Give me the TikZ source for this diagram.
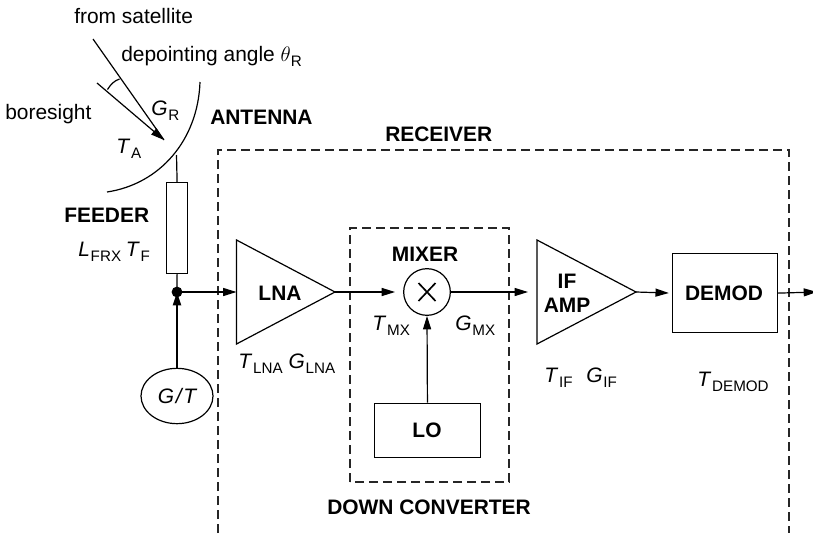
\documentclass[tikz,border=0pt]{standalone}
\usepackage{fix-cm}
\usepackage{fontspec}
\setmainfont{Liberation Sans}
\usetikzlibrary{arrows.meta,shapes.geometric}
\newcommand{\vsub}[2]{\textit{#1}\kern0.04em\raisebox{-0.28em}{\fontsize{11.4}{12}\selectfont #2}}
\tikzset{
  ln/.style={line width=0.9pt,draw=black},
  dashbox/.style={line width=0.8pt,draw=black!85,dash pattern=on 6.8pt off 3.7pt},
  arr/.style={ln,-{Triangle[length=10pt,width=6pt]}},
  lab/.style={font=\fontsize{15.7}{18}\selectfont,inner sep=0pt,anchor=base west},
  labc/.style={lab,anchor=base},
  blab/.style={lab,font=\fontsize{15.7}{18}\selectfont\bfseries},
  blabc/.style={blab,anchor=base},
  boxn/.style={ln,draw,rectangle,inner sep=0pt,anchor=north west},
}
\begin{document}
\begin{tikzpicture}[x=0.75pt,y=-0.75pt]
\useasboundingbox (0,0) rectangle (813,536);
% dashed frames
\draw[dashbox] (218,533) -- (218,150) -- (789,150) -- (789,533);
\draw[dashbox] (350,482) -- (350,228) -- (509,228) -- (509,482) -- cycle;
% antenna
\coordinate (sat) at (93,39);
\coordinate (bore) at (97,83);
\coordinate (focus) at (164,140);
\coordinate (dishtop) at (200,82);
\coordinate (dishbot) at (107,192);
\coordinate (dishfeed) at (176.5,155);
\draw[ln] (dishtop) .. controls (198,140) and (160,184) .. (dishbot);
\draw[ln] (sat) -- (focus);
\draw[arr] (bore) -- (focus);
\draw[ln] (107.5,89.5) .. controls (111,84) and (114,81) .. (119.5,79);
% blocks
\node[boxn,minimum width=15.75pt,minimum height=68.25pt] (feeder) at (166,182) {};
\fill (177,292) circle[radius=5.4] coordinate (dot);
\node[ln,draw,ellipse,minimum width=54pt,minimum height=41.5pt,inner sep=0pt] (gt) at (177,396) {};
\node[labc,font=\fontsize{15.7}{18}\selectfont\itshape] (gtl) at (177,403) {G\kern0.08em/\kern0.08em T};
\coordinate (lnaa) at (236.5,240);
\coordinate (lnab) at (236.5,344);
\coordinate (lnaout) at (335,292);
\coordinate (lnain) at (236.5,292);
\draw[ln,line join=miter] (lnaa) -- (lnaout) -- (lnab) -- cycle;
\node[ln,draw,circle,minimum size=35pt,inner sep=0pt] (mix) at (427,292) {};
\draw[line width=1.25pt] (mix.center) ++(-8.5,-9) -- ++(17,18) ++(0,-18) -- ++(-17,18);
\coordinate (ifa) at (537,240);
\coordinate (ifb) at (537,344);
\coordinate (ifout) at (636,292);
\coordinate (ifin) at (537,292);
\draw[ln,line join=miter] (ifa) -- (ifout) -- (ifb) -- cycle;
\node[boxn,minimum width=79pt,minimum height=59.25pt] (demod) at (671.5,253) {};
\node[boxn,minimum width=80pt,minimum height=40.5pt] (lo) at (373.5,402.5) {};
\coordinate (outend) at (817,292);
% connectors
\draw[ln] (dishfeed) -- (feeder.north);
\draw[ln] (feeder.south) -- (dot);
\draw[arr] (dot) -- (lnain);
\draw[arr,line width=1.5pt] (gt.north) -- (dot);
\draw[arr,shorten >=6pt] (lnaout) -- (mix.west);
\draw[arr,shorten >=6.75pt] (mix.east) -- (ifin);
\draw[arr,shorten >=2pt] (ifout) -- (demod.west);
\draw[arr] (demod.east) -- (outend);
\draw[arr] (lo.north) -- (mix.south);
% labels
\node[lab] (t1) at (74,23) {from satellite};
\node[lab] (t2) at (121,61) {depointing angle $\theta$\raisebox{-0.28em}{\fontsize{11.4}{12}\selectfont R}};
\node[lab] (t3) at (5,119) {boresight};
\node[lab] (t4) at (151,115) {\vsub{G}{R}};
\node[lab] (t5) at (116,153) {\vsub{T}{A}};
\node[blab] (t6) at (210,124) {ANTENNA};
\node[blab] (t7) at (64,222) {FEEDER};
\node[lab] (t8) at (78,256) {\vsub{L}{FRX}\kern0.22em\vsub{T}{F}};
\node[blab] (t9) at (385,141) {RECEIVER};
\node[blabc] (t10) at (425,261) {MIXER};
\node[blabc] (t11) at (280,300) {LNA};
\node[lab] (t12) at (372,330) {\vsub{T}{MX}};
\node[lab] (t13) at (455,330) {\vsub{G}{MX}};
\node[lab] (t14) at (238,368) {\vsub{T}{LNA} \vsub{G}{LNA}};
\node[blabc] (t15) at (427,437) {LO};
\node[blab] (t16) at (327,514) {DOWN CONVERTER};
\node[blabc] (t17) at (567,288) {IF};
\node[blabc] (t18) at (567,312) {AMP};
\node[lab] (t19) at (544,382) {\vsub{T}{IF}};
\node[lab] (t20) at (586,382) {\vsub{G}{IF}};
\node[lab] (t21) at (697,386) {\vsub{T}{DEMOD}};
\node[blabc] (t22) at (724,300) {DEMOD};
\end{tikzpicture}
\end{document}
